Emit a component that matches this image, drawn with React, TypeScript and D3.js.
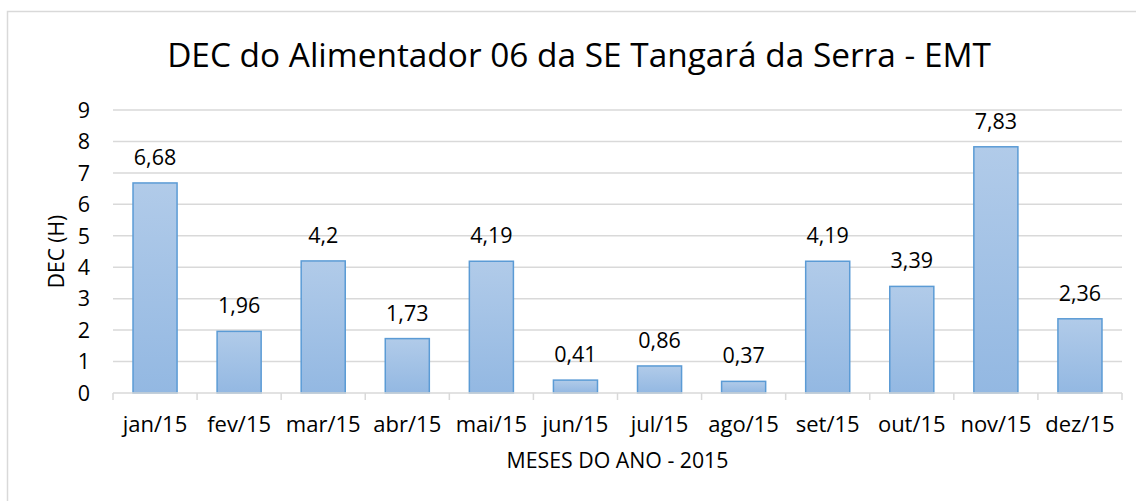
import * as d3 from "d3"
import { useEffect, useRef } from "react"

const MONTHS = [
  "jan/15", "fev/15", "mar/15", "abr/15", "mai/15", "jun/15",
  "jul/15", "ago/15", "set/15", "out/15", "nov/15", "dez/15",
]
const DEC_VALUES = [6.68, 1.96, 4.2, 1.73, 4.19, 0.41, 0.86, 0.37, 4.19, 3.39, 7.83, 2.36]
const Y_TICKS = [0, 1, 2, 3, 4, 5, 6, 7, 8, 9]

const TITLE = "DEC do Alimentador 06 da SE Tangará da Serra - EMT"
const X_TITLE = "MESES DO ANO - 2015"
const Y_TITLE = "DEC (H)"

const FONT = "'Open Sans', 'Noto Sans', sans-serif"

export default function App() {
  const ref = useRef<SVGSVGElement>(null)

  useEffect(() => {
    if (!ref.current) return
    const svg = d3.select(ref.current)
    svg.selectAll("*").remove()

    const W = 1136
    const H = 501
    const margin = { top: 110, right: 14, bottom: 108, left: 113 }
    const width = W - margin.left - margin.right
    const height = H - margin.top - margin.bottom

    const fmt = (v: number) => String(v).replace(".", ",")

    const defs = svg.append("defs")
    const grad = defs
      .append("linearGradient")
      .attr("id", "barGrad")
      .attr("x1", 0).attr("y1", 0).attr("x2", 0).attr("y2", 1)
    grad.append("stop").attr("offset", "0%").attr("stop-color", "#b1cbe9")
    grad.append("stop").attr("offset", "100%").attr("stop-color", "#93b8e2")

    // chart frame
    svg
      .append("rect")
      .attr("x", 7.5)
      .attr("y", 11.5)
      .attr("width", W + 20)
      .attr("height", H + 20)
      .attr("fill", "#fff")
      .attr("stroke", "#d9d9d9")
      .attr("stroke-width", 1.5)

    const x = d3.scaleBand().domain(MONTHS).range([0, width]).paddingInner(0.476).paddingOuter(0.238)
    const y = d3.scaleLinear().domain([0, 9]).range([height, 0])

    const g = svg.append("g").attr("transform", `translate(${margin.left},${margin.top})`)

    // gridlines
    g.selectAll(".grid")
      .data(Y_TICKS.filter((t) => t > 0))
      .enter()
      .append("line")
      .attr("x1", 0)
      .attr("x2", width)
      .attr("y1", (d) => y(d))
      .attr("y2", (d) => y(d))
      .attr("stroke", "#d9d9d9")
      .attr("stroke-width", 1.5)

    // y tick labels
    g.selectAll(".ylab")
      .data(Y_TICKS)
      .enter()
      .append("text")
      .attr("x", -23)
      .attr("y", (d) => y(d))
      .attr("dy", "0.36em")
      .attr("text-anchor", "end")
      .attr("font-family", FONT)
      .attr("font-size", 21.5)
      .attr("fill", "#000")
      .text((d) => d)

    // bars
    g.selectAll(".bar")
      .data(DEC_VALUES)
      .enter()
      .append("rect")
      .attr("x", (_, i) => x(MONTHS[i])!)
      .attr("y", (d) => y(d))
      .attr("width", x.bandwidth())
      .attr("height", (d) => height - y(d))
      .attr("fill", "url(#barGrad)")
      .attr("stroke", "#5b9bd5")
      .attr("stroke-width", 1.5)

    // x axis baseline + ticks
    g.append("line")
      .attr("x1", 0).attr("x2", width)
      .attr("y1", height).attr("y2", height)
      .attr("stroke", "#d9d9d9").attr("stroke-width", 1.5)
    const step = x.step()
    g.selectAll(".xtick")
      .data(d3.range(MONTHS.length + 1))
      .enter()
      .append("line")
      .attr("x1", (i) => i * step)
      .attr("x2", (i) => i * step)
      .attr("y1", height)
      .attr("y2", height + 7)
      .attr("stroke", "#d9d9d9")
      .attr("stroke-width", 1.5)

    // x labels
    g.selectAll(".xlab")
      .data(MONTHS)
      .enter()
      .append("text")
      .attr("x", (d) => x(d)! + x.bandwidth() / 2)
      .attr("y", height + 39)
      .attr("text-anchor", "middle")
      .attr("font-family", FONT)
      .attr("font-size", 22)
      .attr("fill", "#000")
      .text((d) => d)

    // value labels
    g.selectAll(".vlab")
      .data(DEC_VALUES)
      .enter()
      .append("text")
      .attr("x", (_, i) => x(MONTHS[i])! + x.bandwidth() / 2)
      .attr("y", (d) => y(d) - 18)
      .attr("text-anchor", "middle")
      .attr("font-family", FONT)
      .attr("font-size", 21.5)
      .attr("fill", "#000")
      .text((d) => fmt(d))

    // axis titles
    g.append("text")
      .attr("x", width / 2)
      .attr("y", height + 75)
      .attr("text-anchor", "middle")
      .attr("font-family", FONT)
      .attr("font-size", 21.3)
      .attr("fill", "#000")
      .text(X_TITLE)

    svg
      .append("text")
      .attr("transform", `translate(64,${margin.top + height / 2}) rotate(-90)`)
      .attr("text-anchor", "middle")
      .attr("font-family", FONT)
      .attr("font-size", 21)
      .attr("fill", "#000")
      .text(Y_TITLE)

    svg
      .append("text")
      .attr("x", 579)
      .attr("y", 67)
      .attr("text-anchor", "middle")
      .attr("font-family", FONT)
      .attr("font-size", 33.4)
      .attr("fill", "#000")
      .text(TITLE)
  }, [])

  return (
    <svg
      ref={ref}
      width={1136}
      height={501}
      style={{ position: "absolute", left: 0, top: 0, display: "block", background: "#fff" }}
    />
  )
}
